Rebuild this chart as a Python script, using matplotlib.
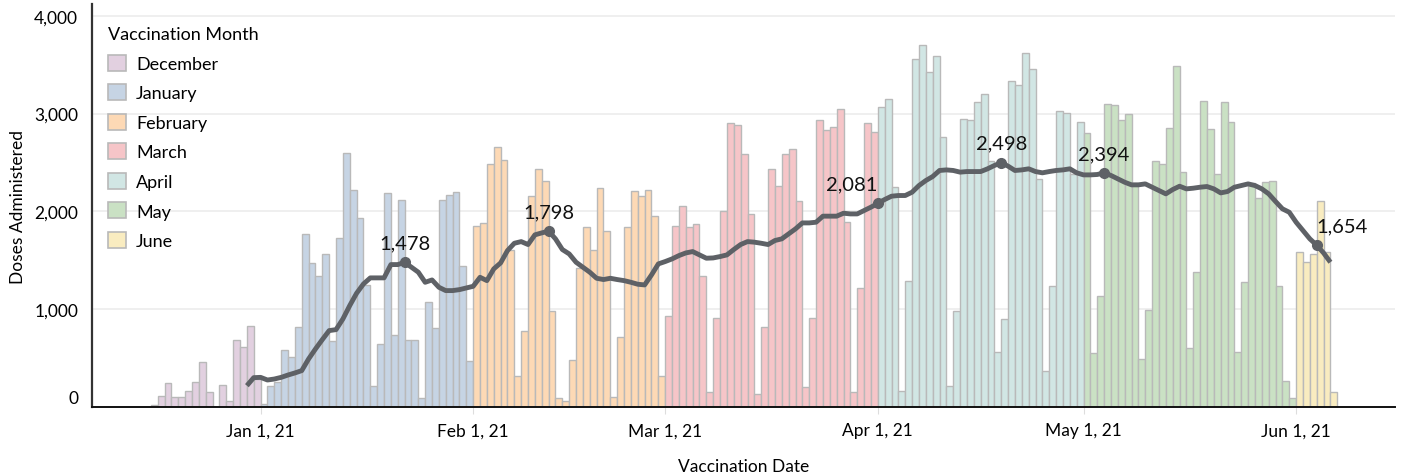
"""Daily vaccination doses with 7-day average."""
import matplotlib
matplotlib.use("Agg")
import matplotlib.pyplot as plt
import matplotlib.dates as mdates
from matplotlib.patches import Patch
from matplotlib.ticker import FuncFormatter
from matplotlib.transforms import ScaledTranslation
import pandas as pd

plt.rcParams["font.family"] = ["Lato", "DejaVu Sans"]

months = ["December", "January", "February", "March", "April", "May", "June"]
month_colors = ["#e2d0e0", "#c6d4e4", "#fdd9b5", "#f6c5c8", "#d1e6e4", "#cae1c4", "#f9ecc0"]

# daily doses, one list per month (Dec 16, 2020 .. Jun 6, 2021)
dec_doses = [20, 109, 245, 106, 106, 167, 259, 457, 150, 0, 228, 58, 690, 612, 825, 290]
jan_doses = [35, 216, 259, 587, 508, 815, 1766, 1470, 1337, 1562, 679, 1732, 2592, 2223, 1930, 1248,
             211, 644, 2189, 737, 2114, 689, 689, 92, 1071, 812, 2114, 2172, 2203, 1439, 474]
feb_doses = [1855, 1882, 2482, 2663, 2527, 1600, 320, 774, 2162, 2435, 2315, 979, 89, 58,
             484, 1422, 1838, 1606, 2237, 1804, 99, 720, 1838, 2206, 2162, 2223, 1950, 320]
mar_doses = [934, 1855, 2053, 1838, 1869, 1344, 150, 907, 2008, 2902, 2885, 2588, 1974, 133, 815, 2435,
             2264, 2588, 2633, 2101, 201, 907, 2929, 2834, 2861, 3049, 1896, 150, 1214, 2902, 2810]
apr_doses = [3066, 3144, 2247, 167, 1286, 3560, 3696, 3424, 3587, 2759, 211, 979, 2946, 2929, 3117,
             3202, 2520, 566, 900, 3332, 3294, 3618, 3451, 2332, 365, 1241, 3025, 3008, 2380, 2912]
may_doses = [2803, 552, 1139, 3100, 3083, 2936, 2991, 2290, 491, 996, 2513, 2486, 2854, 3485, 2407, 600,
             1384, 3127, 2844, 2377, 3117, 2912, 566, 1275, 2292, 2135, 2298, 2315, 1241, 263, 89]
jun_doses = [1582, 1480, 1565, 2104, 1582, 150]

# 7-day average line (Dec 30, 2020 .. Jun 6, 2021)
avg_doses = [218, 300,
             303, 276, 286, 303, 327, 348, 372, 491, 593, 689, 781, 791, 900, 1037, 1163, 1258,
             1320, 1320, 1320, 1456, 1456, 1478, 1429, 1378, 1275, 1299, 1224, 1190, 1190, 1200, 1217,
             1234, 1326, 1292, 1412, 1473, 1599, 1674, 1691, 1661, 1760, 1780, 1798, 1719, 1610,
             1565, 1480, 1429, 1378, 1316, 1303, 1316, 1303, 1292, 1275, 1255, 1248, 1350, 1463,
             1487, 1514, 1548, 1575, 1589, 1555, 1521, 1524, 1538, 1555, 1610, 1661, 1691, 1685, 1674,
             1661, 1702, 1719, 1770, 1821, 1882, 1882, 1889, 1951, 1951, 1951, 1981, 1974, 1974, 2008, 2043,
             2081, 2121, 2155, 2162, 2162, 2196, 2264, 2315, 2356, 2418, 2424, 2418, 2401, 2407, 2407,
             2407, 2435, 2469, 2498, 2462, 2418, 2424, 2435, 2407, 2394, 2407, 2418, 2424, 2435, 2394,
             2373, 2373, 2377, 2394, 2367, 2332, 2298, 2271, 2271, 2281, 2247, 2213, 2179, 2223, 2257,
             2230, 2237, 2247, 2254, 2230, 2189, 2203, 2247, 2264, 2281, 2264, 2230, 2179, 2101, 2026, 1991,
             1889, 1804, 1719, 1654, 1575, 1480]
label_dates = ["2021-01-22", "2021-02-12", "2021-04-01", "2021-04-19", "2021-05-04", "2021-06-04"]
label_align = ["center", "center", "right", "center", "center", "left"]

tick_dates = ["2021-01-01", "2021-02-01", "2021-03-01", "2021-04-01", "2021-05-01", "2021-06-01"]
tick_labels = ["Jan 1, 21", "Feb 1, 21", "Mar 1, 21", "Apr 1, 21", "May 1, 21", "Jun 1, 21"]

daily_doses = dec_doses + jan_doses + feb_doses + mar_doses + apr_doses + may_doses + jun_doses
dates = pd.date_range("2020-12-16", periods=len(daily_doses), freq="D")
avg_dates = pd.date_range("2020-12-30", periods=len(avg_doses), freq="D")
avg = pd.Series(avg_doses, index=avg_dates)

color_of = dict(zip(months, month_colors))
bar_colors = [color_of[d.strftime("%B")] for d in dates]

fig = plt.figure(figsize=(14.08, 4.77), dpi=100)
ax = fig.add_axes([92 / 1408, 1 - 408 / 477, (1395 - 92) / 1408, (408 - 5) / 477])

ax.bar(dates, daily_doses, width=1, align="edge", color=bar_colors,
       edgecolor="#b9b9b9", linewidth=1.0, zorder=2)
ax.plot(avg_dates, avg_doses, color="#5e6166", linewidth=3.5, zorder=3,
        solid_capstyle="butt", solid_joinstyle="round")

for d, ha in zip(label_dates, label_align):
    v = avg[pd.Timestamp(d)]
    ax.plot(pd.Timestamp(d), v, "o", color="#5e6166", markersize=7, zorder=4)
    ax.annotate(f"{v:,.0f}", (pd.Timestamp(d), v), xytext=(0, 14), textcoords="offset points",
                ha=ha, va="center", fontsize=14.5, color="#111111", zorder=5)

ax.set_xlim(mdates.date2num(pd.Timestamp("2020-12-07 10:00")), mdates.date2num(pd.Timestamp("2021-06-15 10:00")))
ax.set_ylim(0, 4120)
ax.set_xticks([mdates.date2num(pd.Timestamp(t)) for t in tick_dates])
ax.set_xticklabels(tick_labels)
ax.set_yticks([0, 1000, 2000, 3000, 4000])
ax.yaxis.set_major_formatter(FuncFormatter(lambda v, _: f"{v:,.0f}"))
ax.tick_params(axis="x", length=5, color="#dddddd", labelsize=12.5, pad=6)
ax.tick_params(axis="y", length=0, labelsize=12.5, pad=10)

ylabels = ax.get_yticklabels()
ylabels[0].set_transform(ylabels[0].get_transform() + ScaledTranslation(0, 0.11, fig.dpi_scale_trans))

ax.grid(axis="y", color="#ececec", linewidth=1.2, zorder=0)
ax.set_axisbelow(True)
for side in ["top", "right"]:
    ax.spines[side].set_visible(False)
ax.spines["left"].set_color("#333333")
ax.spines["bottom"].set_color("#111111")
ax.spines["left"].set_linewidth(1.6)
ax.spines["bottom"].set_linewidth(1.4)

ax.set_xlabel("Vaccination Date", fontsize=12.5, labelpad=14)
ax.set_ylabel("Doses Administered", fontsize=12.5, labelpad=6)

handles = [Patch(facecolor=c, edgecolor="#b9b9b9", linewidth=1.2) for c in month_colors]
leg = ax.legend(handles, months, title="Vaccination Month", loc="upper left",
                bbox_to_anchor=(0.0, 0.985), frameon=False, fontsize=13, title_fontsize=13,
                alignment="left", handlelength=1.0, handleheight=1.0, labelspacing=0.68,
                handletextpad=0.55, borderaxespad=0.5)

fig.savefig("out.png", dpi=100)
